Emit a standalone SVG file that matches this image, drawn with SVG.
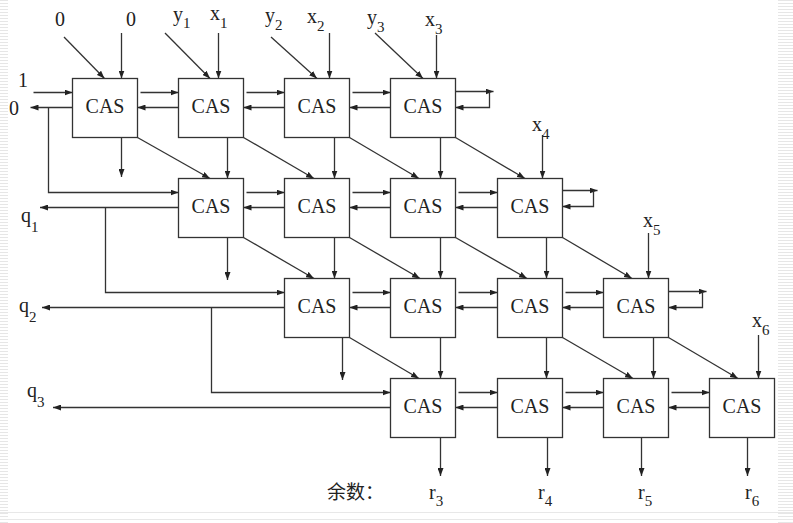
<svg xmlns="http://www.w3.org/2000/svg" width="793" height="523" viewBox="0 0 793 523">
  <defs>
    <marker id="ah" viewBox="0 0 8 6" refX="8" refY="3" markerWidth="8" markerHeight="6" markerUnits="userSpaceOnUse" orient="auto">
      <path d="M0,0 L8,3 L0,6 z" fill="#222"/>
    </marker>
    <pattern id="stripes" width="8" height="3" patternUnits="userSpaceOnUse">
      <rect width="8" height="1" fill="#e6e6e6"/>
    </pattern>
    <style>
      .box { fill: #fff; stroke: #333; stroke-width: 1.3; }
      .cas { font-family: "Liberation Serif", "DejaVu Serif", serif; font-size: 20px; fill: #222; text-anchor: middle; }
      .lbl { font-family: "Liberation Serif", "DejaVu Serif", serif; font-size: 20px; fill: #222; }
      .sub { font-size: 15px; }
      .cjk { font-family: "Noto Sans CJK SC", "Liberation Serif", serif; font-size: 19px; fill: #222; }
      .wire { fill: none; stroke: #333; stroke-width: 1.3; }
      .arr { marker-end: url(#ah); }
    </style>
  </defs>

  <rect width="793" height="523" fill="#fff"/>
  <!-- slide background trim -->
  <rect x="0" y="0" width="8" height="523" fill="url(#stripes)"/>
  <rect x="778" y="0" width="15" height="523" fill="url(#stripes)"/>
  <line x1="0" y1="512.5" x2="793" y2="512.5" stroke="#e8e8e8" stroke-width="1"/>
  <line x1="0" y1="519.5" x2="793" y2="519.5" stroke="#e8e8e8" stroke-width="1"/>

  <!-- connectors -->
  <g id="connectors">
    <!-- row 1 horizontal links -->
    <path class="wire arr" d="M140.5 92.5 H178.5"/>
    <path class="wire arr" d="M178.5 107.5 H137.5"/>
    <path class="wire arr" d="M246.5 92.5 H284.5"/>
    <path class="wire arr" d="M284.5 107.5 H243.5"/>
    <path class="wire arr" d="M352.5 92.5 H390.5"/>
    <path class="wire arr" d="M390.5 107.5 H349.5"/>
    <!-- row 2 horizontal links -->
    <path class="wire arr" d="M246.5 192.5 H284.5"/>
    <path class="wire arr" d="M284.5 207.5 H243.5"/>
    <path class="wire arr" d="M352.5 192.5 H390.5"/>
    <path class="wire arr" d="M390.5 207.5 H349.5"/>
    <path class="wire arr" d="M458.5 192.5 H497.5"/>
    <path class="wire arr" d="M497.5 207.5 H455.5"/>
    <!-- row 3 horizontal links -->
    <path class="wire arr" d="M352.5 292.5 H390.5"/>
    <path class="wire arr" d="M390.5 307.5 H349.5"/>
    <path class="wire arr" d="M458.5 292.5 H497.5"/>
    <path class="wire arr" d="M497.5 307.5 H455.5"/>
    <path class="wire arr" d="M565.5 292.5 H603.5"/>
    <path class="wire arr" d="M603.5 307.5 H562.5"/>
    <!-- row 4 horizontal links -->
    <path class="wire arr" d="M458.5 392.5 H497.5"/>
    <path class="wire arr" d="M497.5 407.5 H455.5"/>
    <path class="wire arr" d="M565.5 392.5 H603.5"/>
    <path class="wire arr" d="M603.5 407.5 H562.5"/>
    <path class="wire arr" d="M671.5 392.5 H709.5"/>
    <path class="wire arr" d="M709.5 407.5 H668.5"/>

    <!-- end-of-row loops -->
    <path class="wire arr" d="M455.5 91.5 H493.5"/>
    <path class="wire arr" d="M489.5 91.5 V107.5 H455.5"/>
    <path class="wire arr" d="M562.5 190.5 H597.5"/>
    <path class="wire arr" d="M593.5 190.5 V206.5 H562.5"/>
    <path class="wire arr" d="M668.5 291.5 H706.5"/>
    <path class="wire arr" d="M702.5 291.5 V307.5 H668.5"/>

    <!-- left side: carry-in, quotient outputs and feedback -->
    <path class="wire arr" d="M33.5 92.5 H72.5"/>
    <path class="wire arr" d="M72.5 107.5 H30.5"/>
    <path class="wire arr" d="M48.5 107.5 V192.5 H178.5"/>
    <path class="wire arr" d="M178.5 207.5 H40"/>
    <path class="wire arr" d="M105.5 207.5 V292.5 H284.5"/>
    <path class="wire arr" d="M284.5 307.5 H42"/>
    <path class="wire arr" d="M211.5 307.5 V392.5 H390.5"/>
    <path class="wire arr" d="M390.5 407.5 H53"/>

    <!-- top inputs -->
    <path class="wire arr" d="M64 37 L104.5 78.5"/>
    <path class="wire arr" d="M121.5 33 V78.5"/>
    <path class="wire arr" d="M165 33 L210 78.5"/>
    <path class="wire arr" d="M218.5 33 V78.5"/>
    <path class="wire arr" d="M271 37 L317 78.5"/>
    <path class="wire arr" d="M329.5 33 V78.5"/>
    <path class="wire arr" d="M375 33 L423 78.5"/>
    <path class="wire arr" d="M436.5 35 V78.5"/>
    <path class="wire arr" d="M542.5 135 V178.5"/>
    <path class="wire arr" d="M648.5 233 V278.5"/>
    <path class="wire arr" d="M758.5 335 V378.5"/>

    <!-- diagonal links -->
    <path class="wire arr" d="M137.5 137.5 L210 178.5"/>
    <path class="wire arr" d="M243.5 137.5 L314 178.5"/>
    <path class="wire arr" d="M349.5 137.5 L419 178.5"/>
    <path class="wire arr" d="M455.5 137.5 L525 178.5"/>
    <path class="wire arr" d="M243.5 237.5 L314 278.5"/>
    <path class="wire arr" d="M349.5 237.5 L420 278.5"/>
    <path class="wire arr" d="M455.5 237.5 L527 278.5"/>
    <path class="wire arr" d="M562.5 237.5 L632 278.5"/>
    <path class="wire arr" d="M349.5 337.5 L419 378.5"/>
    <path class="wire arr" d="M562.5 337.5 L633 378.5"/>
    <path class="wire arr" d="M668.5 337.5 L738 378.5"/>

    <!-- vertical links -->
    <path class="wire arr" d="M121.5 137.5 V177"/>
    <path class="wire arr" d="M227.5 137.5 V178.5"/>
    <path class="wire arr" d="M334.5 137.5 V178.5"/>
    <path class="wire arr" d="M440.5 137.5 V178.5"/>
    <path class="wire arr" d="M227.5 237.5 V280"/>
    <path class="wire arr" d="M334.5 237.5 V278.5"/>
    <path class="wire arr" d="M440.5 237.5 V278.5"/>
    <path class="wire arr" d="M546.5 237.5 V278.5"/>
    <path class="wire arr" d="M342.5 337.5 V380"/>
    <path class="wire arr" d="M440.5 337.5 V378.5"/>
    <path class="wire arr" d="M546.5 337.5 V378.5"/>
    <path class="wire arr" d="M653.5 337.5 V378.5"/>
    <!-- remainder outputs -->
    <path class="wire arr" d="M440.5 437.5 V476"/>
    <path class="wire arr" d="M547.5 437.5 V476"/>
    <path class="wire arr" d="M641.5 437.5 V476"/>
    <path class="wire arr" d="M747.5 437.5 V476"/>
  </g>

  <!-- CAS cells -->
  <g id="cas-1-1"><rect class="box" x="72.5" y="78.5" width="65" height="59"/><text class="cas" x="105" y="113">CAS</text></g>
  <g id="cas-1-2"><rect class="box" x="178.5" y="78.5" width="65" height="59"/><text class="cas" x="211" y="113">CAS</text></g>
  <g id="cas-1-3"><rect class="box" x="284.5" y="78.5" width="65" height="59"/><text class="cas" x="317" y="113">CAS</text></g>
  <g id="cas-1-4"><rect class="box" x="390.5" y="78.5" width="65" height="59"/><text class="cas" x="423" y="113">CAS</text></g>

  <g id="cas-2-1"><rect class="box" x="178.5" y="178.5" width="65" height="59"/><text class="cas" x="211" y="213">CAS</text></g>
  <g id="cas-2-2"><rect class="box" x="284.5" y="178.5" width="65" height="59"/><text class="cas" x="317" y="213">CAS</text></g>
  <g id="cas-2-3"><rect class="box" x="390.5" y="178.5" width="65" height="59"/><text class="cas" x="423" y="213">CAS</text></g>
  <g id="cas-2-4"><rect class="box" x="497.5" y="178.5" width="65" height="59"/><text class="cas" x="530" y="213">CAS</text></g>

  <g id="cas-3-1"><rect class="box" x="284.5" y="278.5" width="65" height="59"/><text class="cas" x="317" y="313">CAS</text></g>
  <g id="cas-3-2"><rect class="box" x="390.5" y="278.5" width="65" height="59"/><text class="cas" x="423" y="313">CAS</text></g>
  <g id="cas-3-3"><rect class="box" x="497.5" y="278.5" width="65" height="59"/><text class="cas" x="530" y="313">CAS</text></g>
  <g id="cas-3-4"><rect class="box" x="603.5" y="278.5" width="65" height="59"/><text class="cas" x="636" y="313">CAS</text></g>

  <g id="cas-4-1"><rect class="box" x="390.5" y="378.5" width="65" height="59"/><text class="cas" x="423" y="413">CAS</text></g>
  <g id="cas-4-2"><rect class="box" x="497.5" y="378.5" width="65" height="59"/><text class="cas" x="530" y="413">CAS</text></g>
  <g id="cas-4-3"><rect class="box" x="603.5" y="378.5" width="65" height="59"/><text class="cas" x="636" y="413">CAS</text></g>
  <g id="cas-4-4"><rect class="box" x="709.5" y="378.5" width="65" height="59"/><text class="cas" x="742" y="413">CAS</text></g>

  <!-- signal labels -->
  <g id="labels">
    <text class="lbl" x="60" y="26" text-anchor="middle">0</text>
    <text class="lbl" x="131" y="26" text-anchor="middle">0</text>
    <text class="lbl" x="173" y="21">y<tspan class="sub" dy="7">1</tspan></text>
    <text class="lbl" x="210" y="20">x<tspan class="sub" dy="8">1</tspan></text>
    <text class="lbl" x="265" y="22">y<tspan class="sub" dy="8">2</tspan></text>
    <text class="lbl" x="307" y="23">x<tspan class="sub" dy="8">2</tspan></text>
    <text class="lbl" x="367" y="24">y<tspan class="sub" dy="8">3</tspan></text>
    <text class="lbl" x="425" y="26">x<tspan class="sub" dy="8">3</tspan></text>
    <text class="lbl" x="532" y="131">x<tspan class="sub" dy="8">4</tspan></text>
    <text class="lbl" x="643" y="227">x<tspan class="sub" dy="8">5</tspan></text>
    <text class="lbl" x="752" y="327">x<tspan class="sub" dy="8">6</tspan></text>

    <text class="lbl" x="23" y="87" text-anchor="middle">1</text>
    <text class="lbl" x="14" y="115" text-anchor="middle">0</text>
    <text class="lbl" x="21" y="222">q<tspan class="sub" dy="10">1</tspan></text>
    <text class="lbl" x="19" y="312">q<tspan class="sub" dy="10">2</tspan></text>
    <text class="lbl" x="27" y="397">q<tspan class="sub" dy="10">3</tspan></text>

    <text class="cjk" x="327" y="499">余数：</text>
    <text class="lbl" x="429" y="499">r<tspan class="sub" dy="7">3</tspan></text>
    <text class="lbl" x="538" y="499">r<tspan class="sub" dy="7">4</tspan></text>
    <text class="lbl" x="638" y="499">r<tspan class="sub" dy="7">5</tspan></text>
    <text class="lbl" x="745" y="499">r<tspan class="sub" dy="7">6</tspan></text>
  </g>
</svg>
